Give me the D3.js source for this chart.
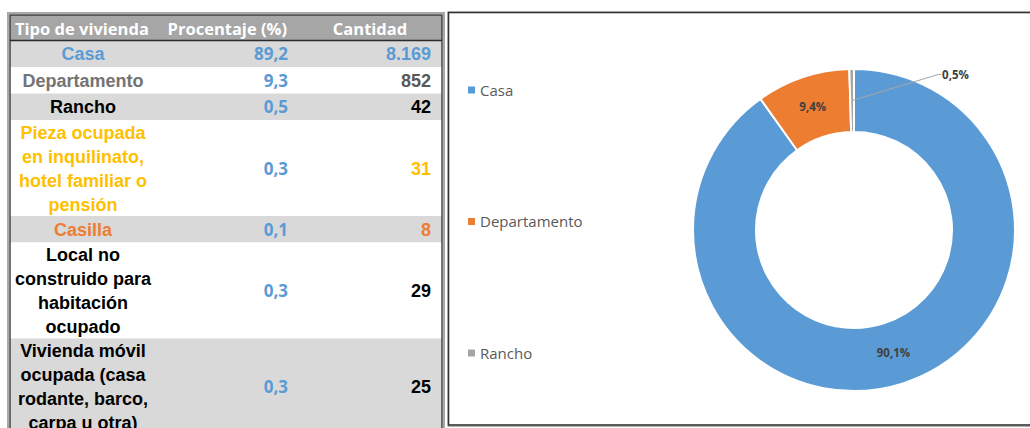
<!DOCTYPE html>
<html>
<head>
<meta charset="utf-8">
<script src="https://cdn.jsdelivr.net/npm/d3@7"></script>
<style>
  html, body { margin: 0; padding: 0; background: #fff; }
  svg { display: block; }
</style>
</head>
<body>
<svg id="vis" width="1030" height="428"></svg>
<script>
// ---- Data ----
const headers = ["Tipo de vivienda", "Procentaje (%)", "Cantidad"];
const tipos = [
  "Casa",
  "Departamento",
  "Rancho",
  "Pieza ocupada\nen inquilinato,\nhotel familiar o\npensión",
  "Casilla",
  "Local no\nconstruido para\nhabitación\nocupado",
  "Vivienda móvil\nocupada (casa\nrodante, barco,\ncarpa u otra)"
];
const porcentajes = [89.2, 9.3, 0.5, 0.3, 0.1, 0.3, 0.3];
const cantidades = [8169, 852, 42, 31, 8, 29, 25];
const tipoColors = ["#5b9bd5", "#737373", "#000000", "#ffc000", "#ed7d31", "#000000", "#000000"];
const cantidadColors = ["#5b9bd5", "#595959", "#000000", "#ffc000", "#ed7d31", "#000000", "#000000"];

// Donut: the three main dwelling types
const chartCategories = tipos.slice(0, 3);
const chartCounts = cantidades.slice(0, 3);
const sliceColors = ["#5b9bd5", "#ed7d31", "#a5a5a5"];

// ---- Helpers ----
const esLocale = d3.formatLocale({ decimal: ",", thousands: ".", grouping: [3], currency: ["$", ""] });
const fmtCount = esLocale.format(",d");
const fmtPct1 = esLocale.format(".1f");

const svg = d3.select("#vis");

// ================= TABLE =================
const T = { x0: 10, x1: 442, top: 15, headBottom: 40.5 };
const lineH = 24, singleH = 26.5;
const colTipo = 83, colPct = 288, colCant = 431;

// row extents from the number of wrapped lines
const rowLines = tipos.map(t => t.split("\n"));
let acc = T.headBottom;
const rows = rowLines.map((lines, i) => {
  const h = lines.length > 1 ? lines.length * lineH : singleH;
  const r = { i, lines, y: acc, h };
  acc += h;
  return r;
});

const table = svg.append("g");

// outer frame (light) and inner frame (dark)
table.append("rect")
  .attr("x", 8).attr("y", 13).attr("width", T.x1 - 8 + 2).attr("height", 460)
  .attr("fill", "none").attr("stroke", "#a8a8a8").attr("stroke-width", 2);

// header band
table.append("rect")
  .attr("x", T.x0).attr("y", T.top).attr("width", T.x1 - T.x0).attr("height", T.headBottom - T.top)
  .attr("fill", "#a6a6a6");

// body rows, alternating grey / white
table.selectAll("rect.row").data(rows).join("rect")
  .attr("class", "row")
  .attr("x", T.x0).attr("y", d => d.y)
  .attr("width", T.x1 - T.x0).attr("height", d => d.h)
  .attr("fill", d => d.i % 2 === 0 ? "#d9d9d9" : "#ffffff");

table.append("rect")
  .attr("x", T.x0).attr("y", T.top).attr("width", T.x1 - T.x0).attr("height", 450)
  .attr("fill", "none").attr("stroke", "#2b2b2b").attr("stroke-width", 1.3);
table.append("line")
  .attr("x1", T.x0).attr("x2", T.x1).attr("y1", T.headBottom).attr("y2", T.headBottom)
  .attr("stroke", "#2b2b2b").attr("stroke-width", 1.3);

// header labels
const headFont = "'Open Sans', sans-serif";
const headPos = [{ x: 15, anchor: "start" }, { x: 287, anchor: "end" }, { x: 370, anchor: "middle" }];
table.selectAll("text.head").data(headers).join("text")
  .attr("class", "head")
  .attr("x", (d, i) => headPos[i].x).attr("y", 35)
  .attr("text-anchor", (d, i) => headPos[i].anchor)
  .attr("font-family", headFont).attr("font-weight", 700).attr("font-size", 16.5)
  .attr("fill", "#ffffff")
  .text(d => d);

const bodyFont = "'Liberation Sans', Arial, sans-serif";
const capHalf = 6.5;

// type labels (wrapped, centred)
const rowG = table.selectAll("g.rowtext").data(rows).join("g").attr("class", "rowtext");
rowG.each(function (d) {
  const g = d3.select(this);
  const mid = d.y + d.h / 2;
  const n = d.lines.length;
  g.selectAll("text.tipo").data(d.lines).join("text")
    .attr("class", "tipo")
    .attr("x", colTipo)
    .attr("y", (l, k) => mid + capHalf + (k - (n - 1) / 2) * lineH)
    .attr("text-anchor", "middle")
    .attr("font-family", bodyFont).attr("font-weight", 700).attr("font-size", 18)
    .attr("fill", tipoColors[d.i])
    .text(l => l);
  g.append("text")
    .attr("x", colPct).attr("y", mid + capHalf)
    .attr("text-anchor", "end")
    .attr("font-family", headFont).attr("font-weight", 700).attr("font-size", 17)
    .attr("fill", "#5b9bd5")
    .text(fmtPct1(porcentajes[d.i]));
  g.append("text")
    .attr("x", colCant).attr("y", mid + capHalf)
    .attr("text-anchor", "end")
    .attr("font-family", bodyFont).attr("font-weight", 700).attr("font-size", 18)
    .attr("fill", cantidadColors[d.i])
    .text(fmtCount(cantidades[d.i]));
});

// ================= DONUT CHART =================
const box = { x: 448.5, y: 12.5, w: 640, h: 412.5 };
const chart = svg.append("g");

chart.append("rect")
  .attr("x", box.x - 0.5).attr("y", box.y - 0.5).attr("width", box.w).attr("height", box.h + 2)
  .attr("fill", "none").attr("stroke", "#b0b0b0").attr("stroke-width", 1);
chart.append("rect")
  .attr("x", box.x).attr("y", box.y).attr("width", box.w).attr("height", box.h)
  .attr("fill", "#ffffff").attr("stroke", "#333333").attr("stroke-width", 1.6);

// legend
const legendY = d3.scalePoint().domain(chartCategories).range([90, 353]);
const color = d3.scaleOrdinal().domain(chartCategories).range(sliceColors);
const leg = chart.selectAll("g.leg").data(chartCategories).join("g")
  .attr("class", "leg")
  .attr("transform", d => `translate(468,${legendY(d)})`);
leg.append("rect")
  .attr("x", 0).attr("y", -3.5).attr("width", 7).attr("height", 7)
  .attr("fill", d => color(d));
leg.append("text")
  .attr("x", 12).attr("y", 5.5)
  .attr("font-family", headFont).attr("font-size", 15)
  .attr("fill", "#595959")
  .text(d => d);

// donut
const cx = 854, cy = 230, rOuter = 161, rInner = 98;
const total = d3.sum(chartCounts);
const pie = d3.pie().sort(null).value(d => d.value);
const arcs = pie(chartCategories.map((c, i) => ({ cat: c, value: chartCounts[i] })));
const arc = d3.arc().innerRadius(rInner).outerRadius(rOuter);
const labelArc = d3.arc().innerRadius((rInner + rOuter) / 2).outerRadius((rInner + rOuter) / 2);

const donut = chart.append("g").attr("transform", `translate(${cx},${cy})`);
donut.selectAll("path").data(arcs).join("path")
  .attr("d", arc)
  .attr("fill", d => color(d.data.cat))
  .attr("stroke", "#ffffff").attr("stroke-width", 2);

const pctLabel = d => fmtPct1(d.data.value / total * 100) + "%";
const labelStyle = sel => sel
  .attr("font-family", headFont).attr("font-weight", 700).attr("font-size", 11.5)
  .attr("fill", "#404040");

// labels inside the larger slices, leader line for the thin one
arcs.forEach(d => {
  const [lx, ly] = labelArc.centroid(d);
  const share = d.data.value / total;
  if (share > 0.02) {
    donut.append("text")
      .attr("x", lx).attr("y", ly + 4)
      .attr("text-anchor", "middle")
      .call(labelStyle)
      .text(pctLabel(d));
  } else {
    const tx = lx + 86, ty = ly - 26;
    donut.append("polyline")
      .attr("points", [[lx, ly], [tx, ty], [tx + 3, ty]].map(p => p.join(",")).join(" "))
      .attr("fill", "none").attr("stroke", "#a6a6a6").attr("stroke-width", 1);
    donut.append("text")
      .attr("x", tx + 4).attr("y", ty + 4)
      .attr("text-anchor", "start")
      .call(labelStyle)
      .text(pctLabel(d));
  }
});
</script>
</body>
</html>
